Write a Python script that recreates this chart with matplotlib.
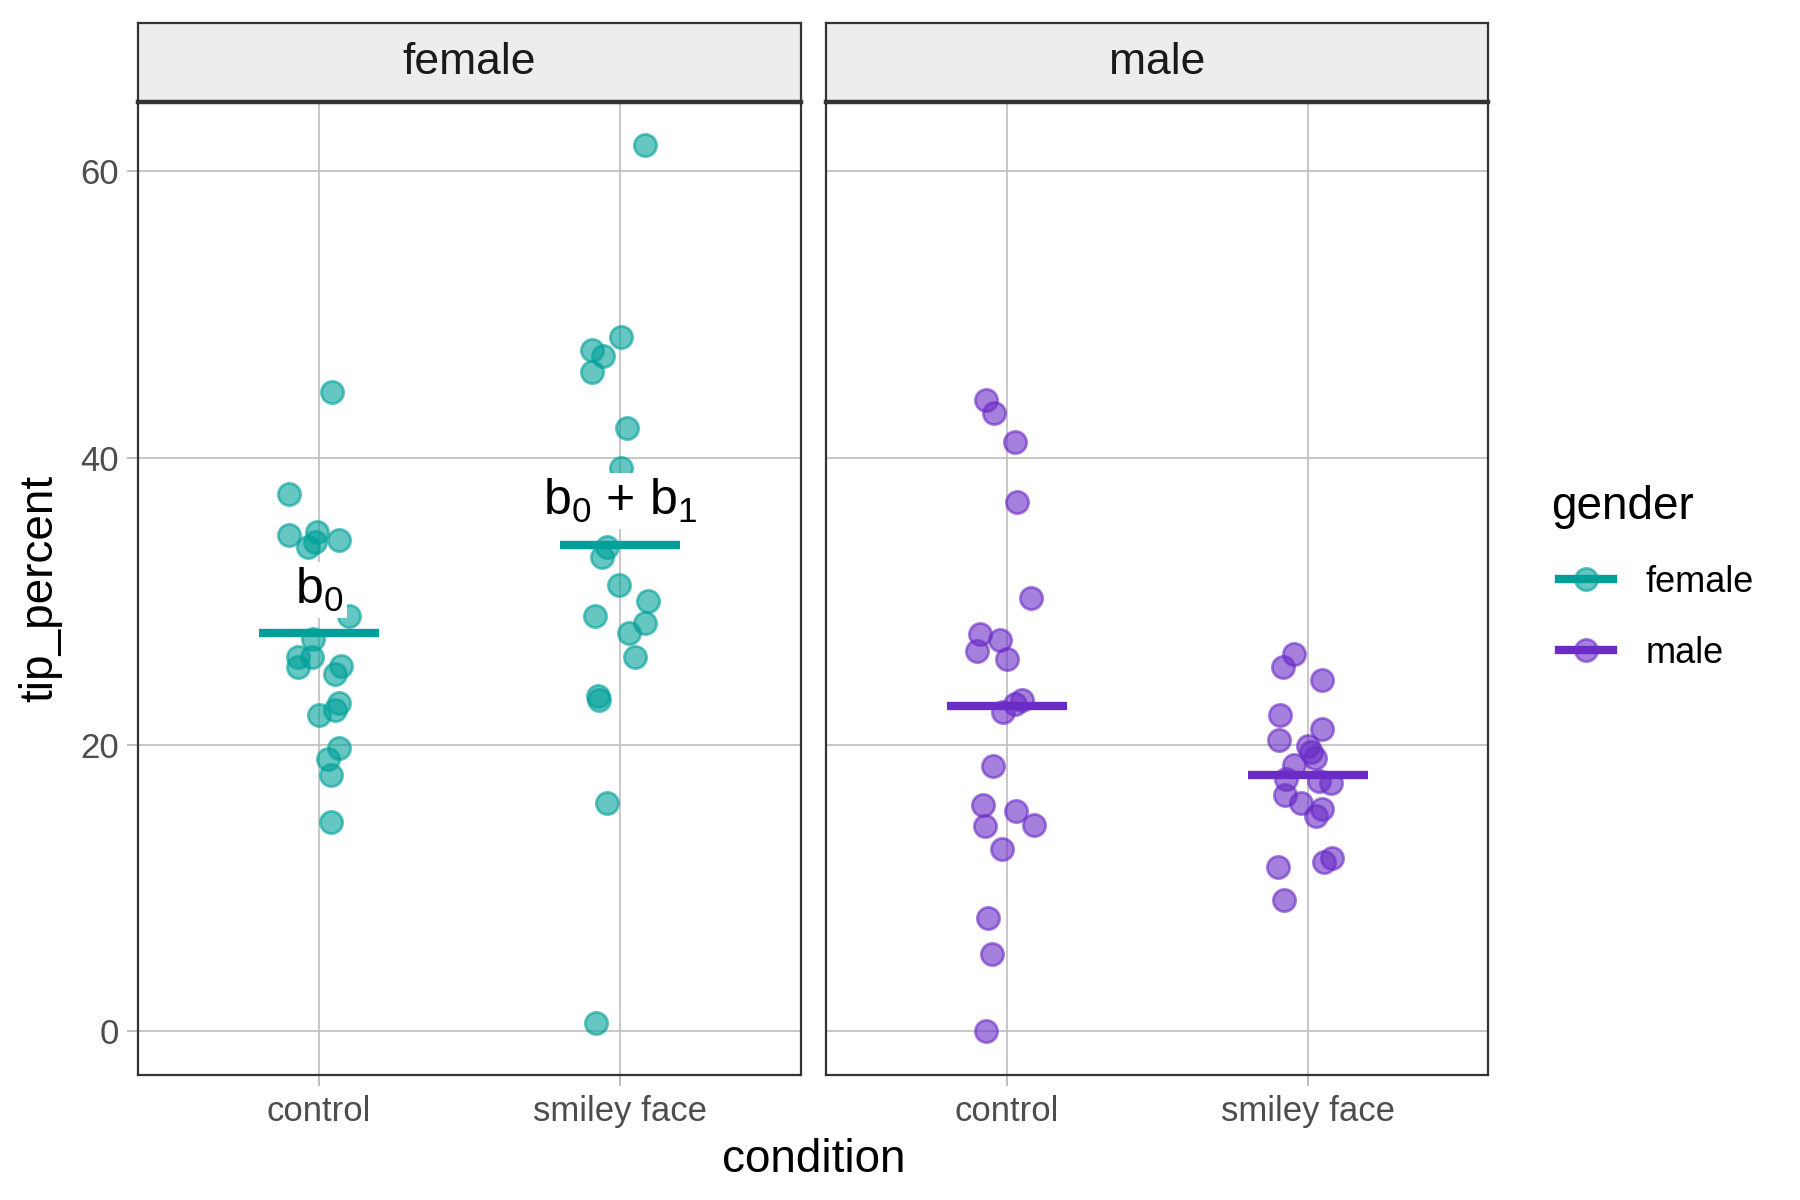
import numpy as np
import matplotlib.pyplot as plt
from matplotlib.lines import Line2D

plt.rcParams['font.family'] = ['Liberation Sans', 'DejaVu Sans']
plt.rcParams['mathtext.fontset'] = 'custom'
plt.rcParams['mathtext.rm'] = 'Liberation Sans'
plt.rcParams['mathtext.it'] = 'Liberation Sans:italic'

conditions = ['control', 'smiley face']
genders = ['female', 'male']
colors = {'female': '#00A099', 'male': '#6A2BC6'}

# tip_percent values, with horizontal jitter
female_control = [44.6, 37.5, 34.6, 34.8, 34.1, 34.3, 33.8, 29.0, 27.4, 26.1, 26.1,
                  25.4, 25.5, 24.9, 22.9, 22.4, 22.1, 19.8, 19.0, 17.9, 14.6]
female_control_jit = [0.042, -0.099, -0.099, -0.008, -0.015, 0.065, -0.038, 0.099, -0.019, -0.069, -0.023,
                      -0.069, 0.073, 0.053, 0.065, 0.053, 0.0, 0.065, 0.031, 0.038, 0.038]
female_smiley = [61.8, 48.4, 47.5, 47.1, 46.0, 42.1, 39.3, 33.8, 33.1, 31.1, 30.0,
                 29.0, 28.5, 27.8, 26.1, 23.4, 23.1, 15.9, 0.6]
female_smiley_jit = [0.084, 0.004, -0.095, -0.057, -0.092, 0.023, 0.004, -0.042, -0.061, -0.004, 0.092,
                     -0.084, 0.084, 0.031, 0.050, -0.073, -0.069, -0.042, -0.080]
male_control = [44.0, 43.1, 41.1, 36.9, 30.2, 27.7, 27.3, 26.5, 26.0, 23.1, 22.8,
                22.3, 18.5, 15.8, 15.4, 14.3, 14.4, 12.7, 7.9, 5.4, 0.0]
male_control_jit = [-0.069, -0.042, 0.027, 0.034, 0.080, -0.088, -0.023, -0.100, 0.0, 0.050, 0.027,
                    -0.011, -0.046, -0.080, 0.031, -0.073, 0.092, -0.015, -0.061, -0.050, -0.069]
male_smiley = [26.3, 25.4, 24.5, 22.1, 21.1, 20.3, 19.9, 19.5, 19.1, 18.6, 17.6,
               17.5, 17.3, 16.5, 15.9, 15.5, 15.0, 11.5, 12.1, 11.8, 9.2]
male_smiley_jit = [-0.046, -0.084, 0.046, -0.092, 0.046, -0.096, 0.0, 0.011, 0.023, -0.046, -0.073,
                   0.038, 0.077, -0.077, -0.023, 0.046, 0.027, -0.100, 0.080, 0.054, -0.080]

group_means = {'female': [27.8, 33.9], 'male': [22.7, 17.9]}
labels_female = ['b$_0$', 'b$_0$ + b$_1$']
label_y = [30.8, 37.0]

data = {
    'female': [(female_control, female_control_jit), (female_smiley, female_smiley_jit)],
    'male': [(male_control, male_control_jit), (male_smiley, male_smiley_jit)],
}

fig = plt.figure(figsize=(9, 6), dpi=200)
W, H = 1560, 1040
bottom, top = 1 - 932 / H, 1 - 88 / H
strip_top = 1 - 20 / H
panel_lr = {'female': (120, 694), 'male': (716, 1290)}

axes = {}
for g in genders:
    l, r = panel_lr[g]
    ax = fig.add_axes([l / W, bottom, (r - l) / W, top - bottom])
    axes[g] = ax
    c = colors[g]
    for i, (vals, jit) in enumerate(data[g]):
        x = i + 1 + np.array(jit)
        ax.scatter(x, vals, s=64, facecolor=c, edgecolor=c, alpha=0.6, linewidth=1.0, zorder=3)
        ax.plot([i + 1 - 0.2, i + 1 + 0.2], [group_means[g][i]] * 2, color=c, lw=3.0,
                solid_capstyle='butt', zorder=4)
    ax.set_xlim(0.4, 2.6)
    ax.set_ylim(-3.06, 64.84)
    ax.set_xticks([1, 2])
    ax.set_xticklabels(conditions)
    ax.set_yticks([0, 20, 40, 60])
    ax.grid(True, color='#BDBDBD', lw=0.6)
    ax.set_axisbelow(True)
    for sp in ax.spines.values():
        sp.set_color('#333333')
        sp.set_linewidth(0.8)
    ax.tick_params(axis='both', colors='#B3B3B3', length=4, width=0.6,
                   labelsize=12.5, labelcolor='#4D4D4D', pad=3)
    if g == 'male':
        ax.tick_params(axis='y', labelleft=False, length=0)

    # strip
    sax = fig.add_axes([l / W, top, (r - l) / W, strip_top - top])
    sax.set_facecolor('#EDEDED')
    sax.set_xticks([])
    sax.set_yticks([])
    for sp in sax.spines.values():
        sp.set_color('#333333')
        sp.set_linewidth(0.8)
    sax.spines['bottom'].set_linewidth(1.6)
    sax.text(0.5, 0.5, g, ha='center', va='center', fontsize=16, color='#1A1A1A',
             transform=sax.transAxes)

for i, lab in enumerate(labels_female):
    axes['female'].text(i + 1, label_y[i], lab, ha='center', va='center', fontsize=18, zorder=5,
                        bbox=dict(facecolor='white', edgecolor='none', pad=1.5))

fig.text(705 / W, 1 - 1005 / H, 'condition', ha='center', va='center', fontsize=16.5)
fig.text(35 / W, 1 - 510 / H, 'tip_percent', ha='center', va='center', fontsize=16.5, rotation=90)

handles = [Line2D([0], [0], color=colors[g], lw=3.0, marker='o', markersize=8,
                  markerfacecolor=colors[g] + '99', markeredgecolor=colors[g] + '99')
           for g in genders]
leg = fig.legend(handles, genders, title='gender', loc='upper left',
                 bbox_to_anchor=(1323 / W, 1 - 392 / H), frameon=False, fontsize=13,
                 title_fontsize=16.5, handlelength=1.5, labelspacing=1.0, handletextpad=0.9)
leg._legend_box.align = 'left'
leg.get_title().set_position((-8, 0))

fig.savefig('out.png', dpi=200)
